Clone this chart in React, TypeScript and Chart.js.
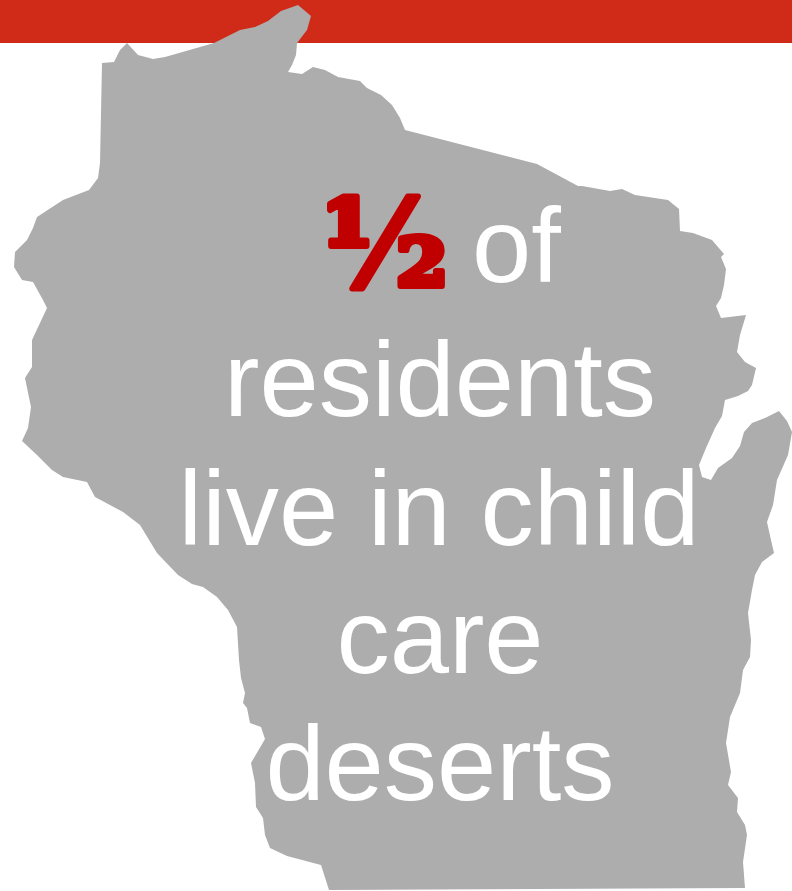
import React, { useEffect, useRef } from "react";
import { Chart, registerables } from "chart.js";

Chart.register(...registerables);

const outlineX = [102,114,120,127,138,153,165,214,240,255,268,281,298,311,307,297,296,292,288,302,313,325,338,360,367,381,392,400,405,537,578,582,610,622,635,668,679,680,693,712,724,721,726,724,721,716,721,746,740,737,745,756,752,748,738,725,722,715,706,699,702,711,718,732,740,744,752,765,779,787,792,788,777,773,767,771,774,762,755,752,748,751,750,743,740,730,726,731,728,738,737,745,747,743,745,329,321,287,270,265,263,256,255,251,265,261,250,247,243,245,241,239,237,228,217,203,192,178,157,140,123,95,87,63,52,37,22,28,31,25,32,32,47,43,33,22,14,15,27,33,37,63,89,98,100];
const outlineY = [63,62,50,43,55,59,57,43,30,27,21,11,5,16,30,43,55,65,72,74,67,70,77,81,88,95,105,118,130,164,186,186,191,189,195,200,209,231,233,240,254,257,269,285,298,306,318,315,335,352,362,368,385,391,396,400,416,428,448,465,477,480,468,458,446,432,423,418,411,421,432,455,480,505,522,540,553,562,575,590,613,640,657,670,693,717,743,772,785,798,812,825,835,862,888,890,865,856,848,835,818,807,783,763,739,727,723,708,703,693,678,660,627,610,597,587,584,575,553,525,512,497,482,477,470,455,441,428,407,378,367,340,308,300,282,280,267,252,240,228,217,200,190,178,163];

const bannerX = [0, 792, 792, 0];
const bannerY = [0, 0, 43, 43];

const fractionLabel = "½";
const textLines = ["of", "residents", "live in child", "care", "deserts"];

const SANS = '"Liberation Sans"';

function toPoints(xs: number[], ys: number[]) {
  return xs.map((x, i) => ({ x, y: ys[i] }));
}

const polygonFill = {
  id: "polygonFill",
  beforeDatasetDraw(chart: any, args: any) {
    const pts = args.meta.data;
    const ctx = chart.ctx;
    ctx.save();
    ctx.beginPath();
    pts.forEach((p: any, i: number) => (i ? ctx.lineTo(p.x, p.y) : ctx.moveTo(p.x, p.y)));
    ctx.closePath();
    ctx.fillStyle = chart.data.datasets[args.index].backgroundColor;
    ctx.fill();
    ctx.restore();
  },
};

const captionPlugin = {
  id: "caption",
  afterDatasetsDraw(chart: any) {
    const { ctx, scales } = chart;
    const X = (v: number) => scales.x.getPixelForValue(v);
    const Y = (v: number) => scales.y.getPixelForValue(v);
    ctx.save();
    ctx.textBaseline = "alphabetic";
    ctx.fillStyle = "#ffffff";
    ctx.font = `106.5px ${SANS}`;
    ctx.textAlign = "left";
    ctx.fillText(textLines[0], X(472), Y(282));
    ctx.textAlign = "center";
    const centres = [440, 439, 440, 440];
    const baselines = [416, 545, 673, 800];
    textLines.slice(1).forEach((t, i) => ctx.fillText(t, X(centres[i]), Y(baselines[i])));

    ctx.font = `bold 122px "DejaVu Serif"`;
    ctx.textAlign = "center";
    ctx.lineJoin = "round";
    ctx.lineWidth = 6;
    ctx.strokeStyle = "#c00000";
    ctx.fillStyle = "#c00000";
    ctx.strokeText(fractionLabel, X(385), Y(287));
    ctx.fillText(fractionLabel, X(385), Y(287));
    ctx.restore();
  },
};

export default function App() {
  const ref = useRef<HTMLCanvasElement>(null);
  useEffect(() => {
    document.body.style.margin = "0";
    const chart = new Chart(ref.current!, {
      type: "scatter",
      data: {
        datasets: [
          {
            label: "Wisconsin",
            data: toPoints(outlineX, outlineY),
            showLine: false,
            pointRadius: 0,
            backgroundColor: "#adadad",
            order: 1,
          },
          {
            label: "Banner",
            data: toPoints(bannerX, bannerY),
            showLine: false,
            pointRadius: 0,
            backgroundColor: "#d02b18",
            order: 2,
          },
        ],
      },
      options: {
        animation: false,
        responsive: false,
        devicePixelRatio: 1,
        layout: { padding: 0 },
        plugins: { legend: { display: false }, tooltip: { enabled: false }, title: { display: false } },
        scales: {
          x: { type: "linear", display: false, min: 0, max: 792 },
          y: { type: "linear", display: false, min: 0, max: 891, reverse: true },
        },
      },
      plugins: [polygonFill, captionPlugin],
    } as any);
    return () => chart.destroy();
  }, []);
  return (
    <div style={{ width: 792, height: 891, overflow: "hidden" }}>
      <canvas ref={ref} width={792} height={891} style={{ display: "block" }} />
    </div>
  );
}
